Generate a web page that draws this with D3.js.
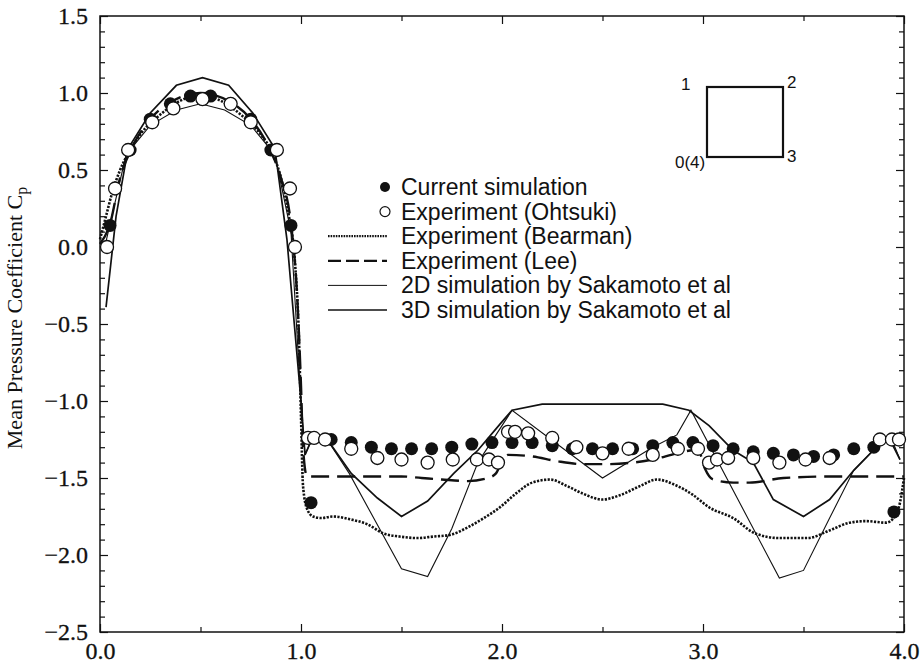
<!DOCTYPE html>
<html>
<head>
<meta charset="utf-8">
<script src="https://cdn.jsdelivr.net/npm/d3@7"></script>
<style>
  html, body { margin: 0; padding: 0; background: #fff; }
  svg { display: block; }
</style>
</head>
<body>
<div id="chart"></div>
<script>
// ---------------------------------------------------------
// DATA – mean pressure coefficient round the square cylinder
// ---------------------------------------------------------
const simX = [0.05, 0.15, 0.25, 0.35, 0.45, 0.55, 0.65, 0.75, 0.85, 0.95,
              1.05, 1.15, 1.25, 1.35, 1.45, 1.55, 1.65, 1.75, 1.85, 1.95,
              2.05, 2.15, 2.25, 2.35, 2.45, 2.55, 2.65, 2.75, 2.85, 2.95,
              3.05, 3.15, 3.25, 3.35, 3.45, 3.55, 3.65, 3.75, 3.85, 3.95];
const simCp = [0.14, 0.63, 0.83, 0.93, 0.98, 0.98, 0.93, 0.83, 0.63, 0.14,
               -1.66, -1.25, -1.27, -1.30, -1.31, -1.31, -1.31, -1.30, -1.28, -1.27,
               -1.27, -1.27, -1.29, -1.31, -1.31, -1.31, -1.31, -1.29, -1.27, -1.27,
               -1.29, -1.31, -1.33, -1.34, -1.35, -1.36, -1.35, -1.31, -1.30, -1.72];

const ohtsukiX = [0.035, 0.075, 0.14, 0.26, 0.365, 0.51, 0.65, 0.75, 0.88, 0.945, 0.97,
                  1.035, 1.065, 1.12, 1.25, 1.38, 1.50, 1.63, 1.755, 1.875, 1.935, 1.98,
                  2.03, 2.065, 2.13, 2.25, 2.37, 2.50, 2.63, 2.75, 2.875, 2.975,
                  3.03, 3.07, 3.125, 3.25, 3.38, 3.51, 3.63, 3.88, 3.94, 3.975];
const ohtsukiCp = [0.00, 0.38, 0.63, 0.81, 0.90, 0.96, 0.93, 0.81, 0.63, 0.38, 0.00,
                   -1.24, -1.24, -1.25, -1.31, -1.37, -1.38, -1.40, -1.38, -1.38, -1.38, -1.40,
                   -1.20, -1.20, -1.21, -1.24, -1.30, -1.34, -1.31, -1.35, -1.31, -1.31,
                   -1.40, -1.38, -1.37, -1.37, -1.40, -1.38, -1.37, -1.25, -1.25, -1.25];

const bearmanX = [0.0, 0.03, 0.06, 0.1, 0.15, 0.2, 0.3, 0.4, 0.5, 0.6, 0.7, 0.8, 0.85, 0.9,
                  0.94, 0.97, 0.99, 1.0, 1.01, 1.03, 1.06, 1.1, 1.16, 1.25, 1.33, 1.41, 1.49,
                  1.58, 1.66, 1.74, 1.83, 1.91, 1.99, 2.07, 2.15, 2.24, 2.32, 2.40, 2.50,
                  2.59, 2.69, 2.77, 2.87, 2.95, 3.03, 3.15, 3.26, 3.38, 3.52, 3.63, 3.73,
                  3.81, 3.91, 3.955, 3.98, 4.0];
const bearmanCp = [0.05, 0.20, 0.35, 0.50, 0.63, 0.73, 0.86, 0.95, 0.99, 0.95, 0.86, 0.73, 0.63, 0.45,
                   0.20, -0.10, -0.60, -1.10, -1.55, -1.70, -1.75, -1.76, -1.75, -1.77, -1.80, -1.86, -1.88,
                   -1.89, -1.88, -1.87, -1.82, -1.76, -1.69, -1.60, -1.53, -1.51, -1.55, -1.60, -1.64,
                   -1.61, -1.55, -1.51, -1.55, -1.61, -1.69, -1.76, -1.86, -1.89, -1.89, -1.84, -1.79,
                   -1.78, -1.79, -1.75, -1.66, -1.50];

const leeX = [0.0, 0.05, 0.1, 0.15, 0.25, 0.35, 0.5, 0.65, 0.75, 0.85, 0.9, 0.95, 0.98, 1.0,
              1.01, 1.03, 1.5, 1.6, 1.7, 1.83, 1.93, 1.97, 1.99, 2.03, 2.15, 2.27, 2.40, 2.52,
              2.65, 2.75, 2.87, 2.95, 2.98, 3.01, 3.05, 3.15, 3.23, 3.40, 3.65, 4.0];
const leeCp = [0.02, 0.15, 0.45, 0.62, 0.83, 0.94, 1.00, 0.94, 0.83, 0.62, 0.45, 0.15, -0.30, -0.90,
               -1.30, -1.49, -1.49, -1.50, -1.51, -1.52, -1.50, -1.47, -1.42, -1.35, -1.36, -1.39, -1.41, -1.41,
               -1.40, -1.38, -1.34, -1.32, -1.33, -1.44, -1.51, -1.53, -1.53, -1.50, -1.49, -1.49];

const sak2dX = [0.02, 0.13, 0.25, 0.38, 0.5, 0.62, 0.75, 0.87, 0.95, 1.0, 1.02,
                1.06, 1.12, 1.24, 1.50, 1.63, 1.75, 1.88, 2.05,
                2.50, 2.75, 2.87, 2.94, 3.38, 3.50, 3.63, 3.75, 3.87, 3.93, 3.98];
const sak2dCp = [-0.02, 0.60, 0.79, 0.89, 0.93, 0.89, 0.79, 0.60, 0.10, -1.00, -1.35,
                 -1.23, -1.23, -1.47, -2.09, -2.14, -1.83, -1.40, -1.06,
                 -1.50, -1.30, -1.22, -1.06, -2.15, -2.10, -1.76, -1.45, -1.29, -1.22, -1.38];

const sak3dX = [0.03, 0.08, 0.14, 0.25, 0.38, 0.51, 0.64, 0.76, 0.87, 0.93, 1.0, 1.02,
                1.06, 1.12, 1.25, 1.38, 1.50, 1.63, 1.76, 1.88, 1.99, 2.05, 2.20, 2.50,
                2.80, 2.93, 3.03, 3.15, 3.25, 3.35, 3.50, 3.63, 3.75, 3.87, 3.93, 3.98];
const sak3dCp = [-0.39, 0.20, 0.64, 0.87, 1.05, 1.10, 1.05, 0.87, 0.64, 0.05, -1.00, -1.35,
                 -1.23, -1.23, -1.47, -1.63, -1.75, -1.65, -1.47, -1.32, -1.15, -1.06, -1.02, -1.02,
                 -1.02, -1.06, -1.16, -1.32, -1.40, -1.64, -1.75, -1.64, -1.45, -1.29, -1.25, -1.38];

const legendLabels = ["Current simulation", "Experiment (Ohtsuki)", "Experiment (Bearman)",
                      "Experiment (Lee)", "2D simulation by Sakamoto et al", "3D simulation by Sakamoto et al"];
const xTicks = [0, 1, 2, 3, 4];
const xMinor = [0.5, 1.5, 2.5, 3.5];
const yTicks = [1.5, 1.0, 0.5, 0.0, -0.5, -1.0, -1.5, -2.0, -2.5];
const yMinor = [1.4, 1.3, 1.2, 1.1, 0.9, 0.8, 0.7, 0.6, 0.4, 0.3, 0.2, 0.1,
                -0.1, -0.2, -0.3, -0.4, -0.6, -0.7, -0.8, -0.9, -1.1, -1.2, -1.3, -1.4,
                -1.6, -1.7, -1.8, -1.9, -2.1, -2.2, -2.3, -2.4];
const cornerLabels = ["1", "2", "3", "0(4)"];

// ---------------------------------------------------------
// SVG + SCALES
// ---------------------------------------------------------
const width = 922, height = 663;
const plotL = 100, plotR = 904, plotT = 16, plotB = 632;

const svg = d3.select("#chart").append("svg")
    .attr("width", width)
    .attr("height", height)
    .style("background", "#fff");

const x = d3.scaleLinear().domain([0, 4]).range([plotL, plotR]);
const y = d3.scaleLinear().domain([-2.5, 1.5]).range([plotB, plotT]);

const ink = "#111";
const serif = "'Liberation Serif', 'Times New Roman', serif";
const sans = "'Liberation Sans', Arial, Helvetica, sans-serif";

// frame
svg.append("rect")
    .attr("x", plotL).attr("y", plotT)
    .attr("width", plotR - plotL).attr("height", plotB - plotT)
    .attr("fill", "none").attr("stroke", ink).attr("stroke-width", 1.5);

function styleAxis(g, labels) {
  g.select(".domain").remove();
  g.selectAll(".tick line").attr("stroke", ink).attr("stroke-width", 1.2);
  g.selectAll(".tick text")
    .attr("fill", ink)
    .attr("stroke", ink)
    .attr("stroke-width", 0.3)
    .style("font-family", serif)
    .style("font-size", "24px");
  if (!labels) g.selectAll(".tick text").remove();
}

// bottom / top
svg.append("g").attr("transform", `translate(0,${plotB})`)
    .call(d3.axisBottom(x).tickValues(xTicks).tickSize(-8).tickPadding(10).tickFormat(d3.format(".1f")))
    .call(g => styleAxis(g, true));
svg.append("g").attr("transform", `translate(0,${plotB})`)
    .call(d3.axisBottom(x).tickValues(xMinor).tickSize(-5))
    .call(g => styleAxis(g, false));
svg.append("g").attr("transform", `translate(0,${plotT})`)
    .call(d3.axisTop(x).tickValues(xTicks).tickSize(-8))
    .call(g => styleAxis(g, false));
svg.append("g").attr("transform", `translate(0,${plotT})`)
    .call(d3.axisTop(x).tickValues(xMinor).tickSize(-5))
    .call(g => styleAxis(g, false));

// left / right
svg.append("g").attr("transform", `translate(${plotL},0)`)
    .call(d3.axisLeft(y).tickValues(yTicks).tickSize(-8).tickPadding(12).tickFormat(d3.format(".1f")))
    .call(g => styleAxis(g, true));
svg.append("g").attr("transform", `translate(${plotL},0)`)
    .call(d3.axisLeft(y).tickValues(yMinor).tickSize(-5))
    .call(g => styleAxis(g, false));
svg.append("g").attr("transform", `translate(${plotR},0)`)
    .call(d3.axisRight(y).tickValues(yTicks).tickSize(-8))
    .call(g => styleAxis(g, false));
svg.append("g").attr("transform", `translate(${plotR},0)`)
    .call(d3.axisRight(y).tickValues(yMinor).tickSize(-5))
    .call(g => styleAxis(g, false));

// y label
const ylab = svg.append("text")
    .attr("transform", "translate(22,318) rotate(-90)")
    .attr("text-anchor", "middle")
    .attr("fill", ink)
    .style("font-family", serif)
    .style("font-size", "22px");
ylab.append("tspan").text("Mean Pressure Coefficient C");
ylab.append("tspan").attr("dy", 5).style("font-size", "16px").text("p");

// ---------------------------------------------------------
// LINES
// ---------------------------------------------------------
const zip = (xs, ys) => xs.map((v, i) => [v, ys[i]]);
const smooth = d3.line().x(d => x(d[0])).y(d => y(d[1])).curve(d3.curveMonotoneX);
const straight = d3.line().x(d => x(d[0])).y(d => y(d[1]));

const plot = svg.append("g");

plot.append("path").attr("d", straight(zip(sak2dX, sak2dCp)))
    .attr("fill", "none").attr("stroke", ink).attr("stroke-width", 1.1);
plot.append("path").attr("d", straight(zip(sak3dX, sak3dCp)))
    .attr("fill", "none").attr("stroke", ink).attr("stroke-width", 1.7);
plot.append("path").attr("d", smooth(zip(bearmanX, bearmanCp)))
    .attr("fill", "none").attr("stroke", ink).attr("stroke-width", 2.6)
    .attr("stroke-dasharray", "2.2 1.4");
plot.append("path").attr("d", smooth(zip(leeX, leeCp)))
    .attr("fill", "none").attr("stroke", ink).attr("stroke-width", 2.4)
    .attr("stroke-dasharray", "18 8");

// markers
plot.selectAll("circle.sim")
    .data(zip(simX, simCp))
    .enter().append("circle")
    .attr("class", "sim")
    .attr("cx", d => x(d[0])).attr("cy", d => y(d[1]))
    .attr("r", 6.5).attr("fill", ink);

plot.selectAll("circle.oht")
    .data(zip(ohtsukiX, ohtsukiCp))
    .enter().append("circle")
    .attr("class", "oht")
    .attr("cx", d => x(d[0])).attr("cy", d => y(d[1]))
    .attr("r", 6.5).attr("fill", "#fff").attr("stroke", ink).attr("stroke-width", 1.3);

// ---------------------------------------------------------
// LEGEND
// ---------------------------------------------------------
const legend = svg.append("g");
const rowY = i => 187 + 24.6 * i;

legendLabels.forEach((label, i) => {
  legend.append("text")
      .attr("x", 401).attr("y", rowY(i) + 8)
      .attr("fill", ink)
      .style("font-family", sans)
      .style("font-size", "23px")
      .text(label);
});
legend.append("circle").attr("cx", 385).attr("cy", rowY(0)).attr("r", 5).attr("fill", ink);
legend.append("circle").attr("cx", 385).attr("cy", rowY(1)).attr("r", 5)
    .attr("fill", "#fff").attr("stroke", ink).attr("stroke-width", 1.2);

const sampleStyles = [
  { w: 2.2, dash: "1.6 1" },
  { w: 2.2, dash: "13 5" },
  { w: 1.0, dash: null },
  { w: 1.5, dash: null }
];
sampleStyles.forEach((s, k) => {
  const ln = legend.append("line")
      .attr("x1", 328).attr("x2", 387)
      .attr("y1", rowY(k + 2)).attr("y2", rowY(k + 2))
      .attr("stroke", ink).attr("stroke-width", s.w);
  if (s.dash) ln.attr("stroke-dasharray", s.dash);
});

// ---------------------------------------------------------
// INSET – the square cylinder with its corner numbers
// ---------------------------------------------------------
const inset = svg.append("g");
inset.append("rect")
    .attr("x", 707).attr("y", 87).attr("width", 76).attr("height", 70)
    .attr("fill", "none").attr("stroke", ink).attr("stroke-width", 2.2);
const cornerPos = [[681, 90], [787, 88], [787, 162], [675, 168]];
cornerLabels.forEach((t, i) => {
  inset.append("text")
      .attr("x", cornerPos[i][0]).attr("y", cornerPos[i][1])
      .attr("fill", ink)
      .style("font-family", sans)
      .style("font-size", "17px")
      .text(t);
});
</script>
</body>
</html>
